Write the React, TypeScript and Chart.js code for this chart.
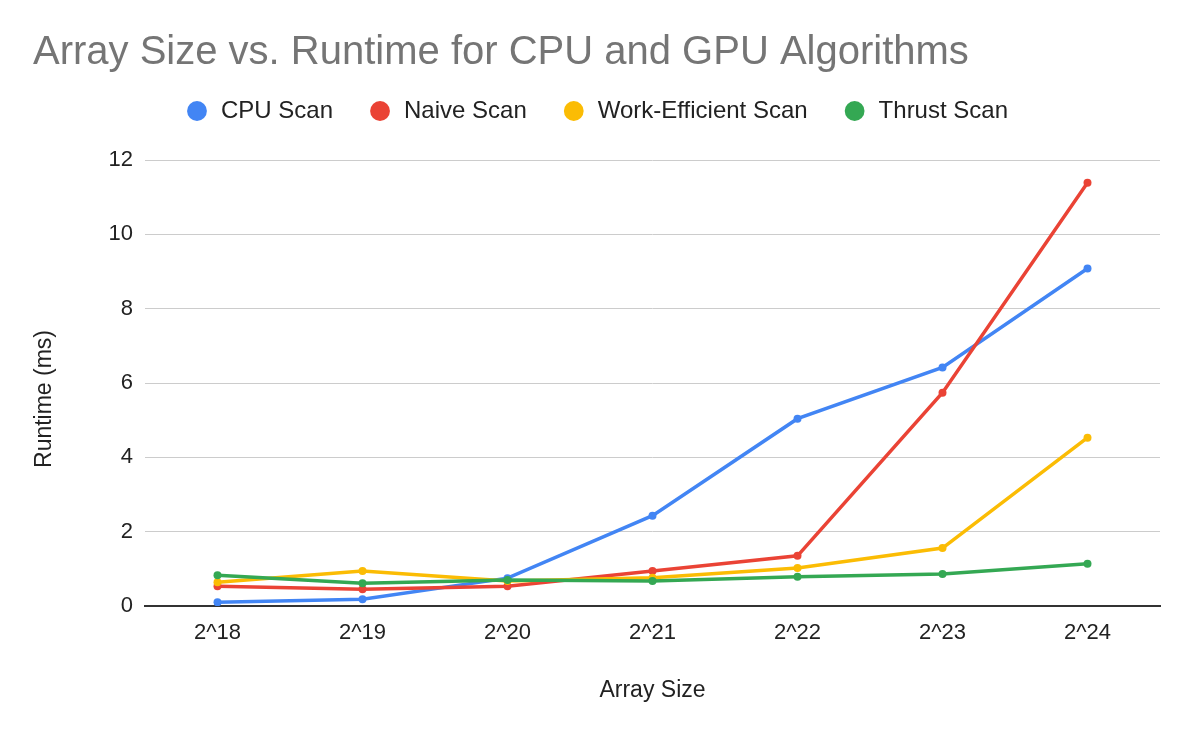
import React, { useEffect, useRef } from "react";
import { Chart, registerables } from "chart.js";

Chart.register(...registerables);

const categories = ["2^18", "2^19", "2^20", "2^21", "2^22", "2^23", "2^24"];
const cpuScan = [0.1, 0.18, 0.75, 2.43, 5.04, 6.42, 9.08];
const naiveScan = [0.53, 0.45, 0.53, 0.94, 1.35, 5.74, 11.39];
const workEfficientScan = [0.64, 0.94, 0.67, 0.76, 1.02, 1.56, 4.53];
const thrustScan = [0.83, 0.61, 0.7, 0.67, 0.79, 0.86, 1.14];
const seriesNames = ["CPU Scan", "Naive Scan", "Work-Efficient Scan", "Thrust Scan"];
const seriesColors = ["#4285F4", "#EA4335", "#FBBC04", "#34A853"];
const yTicks = { min: 0, max: 12, step: 2 };

const FONT = "'Liberation Sans', Arial, sans-serif";

export default function App() {
  const ref = useRef<HTMLCanvasElement | null>(null);

  useEffect(() => {
    if (!ref.current) return;
    Chart.defaults.font.family = FONT;
    const allSeries = [cpuScan, naiveScan, workEfficientScan, thrustScan];
    const datasets = allSeries.map((data, i) => ({
      label: seriesNames[i],
      data,
      borderColor: seriesColors[i],
      backgroundColor: seriesColors[i],
      borderWidth: 3.5,
      pointRadius: 4,
      pointBorderWidth: 0,
      pointBackgroundColor: seriesColors[i],
      pointStyle: "circle" as const,
      tension: 0,
      order: 4 - i,
    }));

    const chart = new Chart(ref.current, {
      type: "line",
      data: { labels: categories, datasets },
      options: {
        responsive: false,
        animation: false,
        layout: { padding: { top: 10, left: 33, right: 31, bottom: 30 } },
        plugins: {
          tooltip: { enabled: false },
          title: {
            display: true,
            text: "Array Size vs. Runtime for CPU and GPU Algorithms",
            align: "start",
            color: "#757575",
            font: { size: 40, weight: "normal", family: FONT, lineHeight: "20px" },
            padding: { top: 33, bottom: 1 },
          },
          subtitle: {
            display: true,
            text: "",
            weight: 500,
            font: { size: 10, lineHeight: "10px" },
            padding: { top: 17, bottom: 0 },
          },
          legend: {
            display: true,
            position: "top",
            weight: 1000,
            labels: {
              usePointStyle: true,
              boxWidth: 24,
              boxHeight: 14,
              padding: 35,
              color: "#222222",
              font: { size: 24, family: FONT },
              sort: (a: any, b: any) => a.datasetIndex - b.datasetIndex,
            },
          },
        },
        scales: {
          x: {
            type: "category",
            offset: true,
            afterFit: (scale: any) => {
              scale.height = 98;
            },
            grid: { display: false, drawTicks: false },
            border: { display: true, color: "#333333", width: 2 },
            ticks: { color: "#222222", font: { size: 22, family: FONT }, padding: 14, maxRotation: 0 },
            title: {
              display: true,
              text: "Array Size",
              color: "#222222",
              font: { size: 23, family: FONT, lineHeight: 1 },
              padding: { top: 0, bottom: 2 },
            },
          },
          y: {
            min: yTicks.min,
            max: yTicks.max,
            afterFit: (scale: any) => {
              scale.width = 112;
            },
            grid: {
              drawTicks: false,
              color: (ctx: any) => (ctx.tick && ctx.tick.value === 0 ? "#333333" : "#cccccc"),
              lineWidth: (ctx: any) => (ctx.tick && ctx.tick.value === 0 ? 2 : 1),
            },
            border: { display: false },
            ticks: { stepSize: yTicks.step, color: "#222222", font: { size: 22, family: FONT }, padding: 12 },
            title: {
              display: true,
              text: "Runtime (ms)     ",
              color: "#222222",
              font: { size: 23, family: FONT, lineHeight: 1 },
              padding: { top: 0, bottom: 0 },
            },
          },
        },
      },
    });
    return () => chart.destroy();
  }, []);

  return (
    <div style={{ position: "fixed", left: 0, top: 0, width: 1191, height: 734, background: "#ffffff" }}>
      <canvas ref={ref} width={1191} height={734} />
    </div>
  );
}
